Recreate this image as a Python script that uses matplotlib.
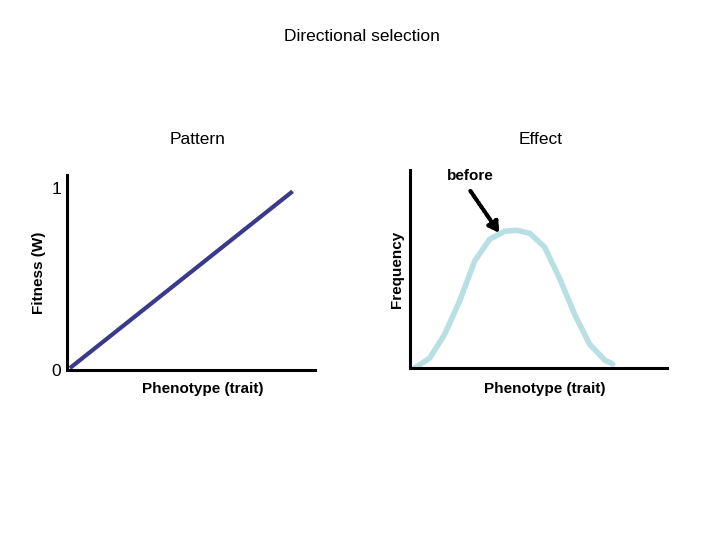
import matplotlib
matplotlib.use("Agg")
import matplotlib.pyplot as plt

# Fitness line (pattern)
fit_x = [0.012, 0.911]
fit_y = [0.01, 0.98]
# Frequency curve (effect), x in 0..10, y in 0..1
freq_x = [0.19, 0.78, 1.36, 1.95, 2.53, 3.11, 3.70, 4.16, 4.67, 5.25, 5.84, 6.42, 7.00, 7.59, 7.90]
freq_y = [0.0, 0.05, 0.17, 0.34, 0.54, 0.65, 0.69, 0.695, 0.68, 0.61, 0.45, 0.27, 0.12, 0.04, 0.02]

fig = plt.figure(figsize=(7.2, 5.4), dpi=100)
fig.text(0.503, 0.933, "Directional selection", ha="center", va="center", fontsize=12.5, family="Liberation Sans")

def style(ax):
    for s in ["top", "right"]:
        ax.spines[s].set_visible(False)
    for s in ["left", "bottom"]:
        ax.spines[s].set_linewidth(2.2)
    ax.set_xticks([])
    ax.set_yticks([])

ax1 = fig.add_axes([0.093, 0.315, 0.344, 0.361])
style(ax1)
ax1.set_xlim(0, 1)
ax1.set_ylim(0, 1.07)
ax1.plot(fit_x, fit_y, color="#3a3a8c", lw=3, solid_capstyle="butt")
ax1.set_yticks([0, 1])
ax1.set_yticklabels(["0", "1"], fontsize=12.5, family="Liberation Sans")
ax1.tick_params(axis="y", length=0, pad=4)
ax1.set_ylabel("Fitness (W)", fontsize=11, fontweight="bold", family="Liberation Sans", labelpad=4)
ax1.text(0.55, -0.1, "Phenotype (trait)", transform=ax1.transAxes, ha="center", va="center",
         fontsize=11, fontweight="bold", family="Liberation Sans")
fig.text(0.274, 0.742, "Pattern", ha="center", va="center", fontsize=12.5, family="Liberation Sans")

ax2 = fig.add_axes([0.569, 0.3185, 0.357, 0.367])
style(ax2)
ax2.set_xlim(0, 10)
ax2.set_ylim(0, 1)
ax2.plot(freq_x, freq_y, color="#b8dfe3", lw=4, solid_capstyle="round")
ax2.set_ylabel("Frequency", fontsize=11, fontweight="bold", family="Liberation Sans", labelpad=4)
ax2.text(0.525, -0.105, "Phenotype (trait)", transform=ax2.transAxes, ha="center", va="center",
         fontsize=11, fontweight="bold", family="Liberation Sans")
ax2.text(2.37, 0.97, "before", ha="center", va="center", fontsize=11, fontweight="bold", family="Liberation Sans")
ax2.annotate("", xy=(3.55, 0.67), xytext=(2.3, 0.905),
             arrowprops=dict(arrowstyle="-|>,head_length=0.6,head_width=0.35", color="black",
                             lw=3, linestyle=(0, (0.6, 0.5))))
fig.text(0.751, 0.742, "Effect", ha="center", va="center", fontsize=12.5, family="Liberation Sans")

fig.savefig("out.png", dpi=100)
